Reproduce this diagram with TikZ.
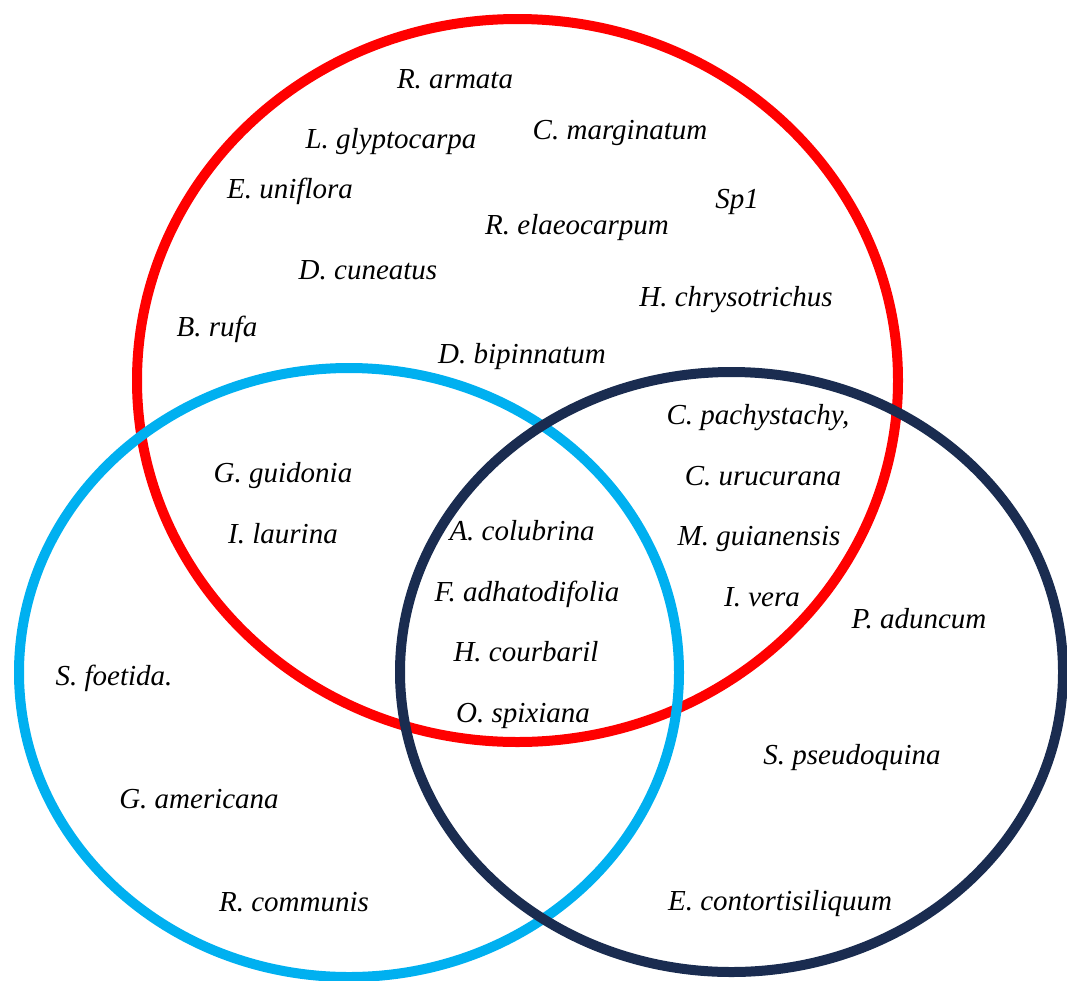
\documentclass[tikz,border=0pt]{standalone}
\usepackage{fontspec}
\setmainfont{Liberation Serif}

\definecolor{setred}{HTML}{FF0000}
\definecolor{setblue}{HTML}{00B0F0}
\definecolor{setnavy}{HTML}{1A2C50}

\tikzset{
  setline/.style={line width=10pt},
  species/.style={anchor=base, inner sep=0pt, font=\fontsize{29}{34}\selectfont\itshape}
}

\begin{document}
\begin{tikzpicture}[x=1pt,y=-1pt]

\useasboundingbox (0,0) rectangle (1067,980);

\draw[setline, setred] (517.5,380.5) ellipse [x radius=380.5, y radius=361.5];
\draw[setline, setblue] (349,672.5) ellipse [x radius=330, y radius=304.5];
\draw[setline, setnavy] (731.5,672) ellipse [x radius=331.5, y radius=300];

\node[species] (armata) at (455,88) {R. armata};
\node[species] (glyptocarpa) at (391,148) {L. glyptocarpa};
\node[species] (marginatum) at (620,139) {C. marginatum};
\node[species] (uniflora) at (290,198) {E. uniflora};
\node[species] (sp1) at (737,208) {Sp1};
\node[species] (elaeocarpum) at (577,234) {R. elaeocarpum};
\node[species] (cuneatus) at (368,279) {D. cuneatus};
\node[species] (chrysotrichus) at (736,306) {H. chrysotrichus};
\node[species] (rufa) at (217,336) {B. rufa};
\node[species] (bipinnatum) at (522,363) {D. bipinnatum};

\node[species] (pachystachy) at (758,424) {C. pachystachy,};
\node[species] (urucurana) at (763,485) {C. urucurana};
\node[species] (guianensis) at (759,545) {M. guianensis};
\node[species] (vera) at (762,606) {I. vera};

\node[species] (guidonia) at (283,482) {G. guidonia};
\node[species] (laurina) at (283,543) {I. laurina};

\node[species] (colubrina) at (522,540) {A. colubrina};
\node[species] (adhatodifolia) at (527,601) {F. adhatodifolia};
\node[species] (courbaril) at (526,661) {H. courbaril};
\node[species] (spixiana) at (523,722) {O. spixiana};

\node[species] (foetida) at (114,685) {S. foetida.};
\node[species] (americana) at (199,808) {G. americana};
\node[species] (communis) at (294,911) {R. communis};

\node[species] (aduncum) at (919,628) {P. aduncum};
\node[species] (pseudoquina) at (852,764) {S. pseudoquina};
\node[species] (contortisiliquum) at (780,910) {E. contortisiliquum};

\end{tikzpicture}
\end{document}
